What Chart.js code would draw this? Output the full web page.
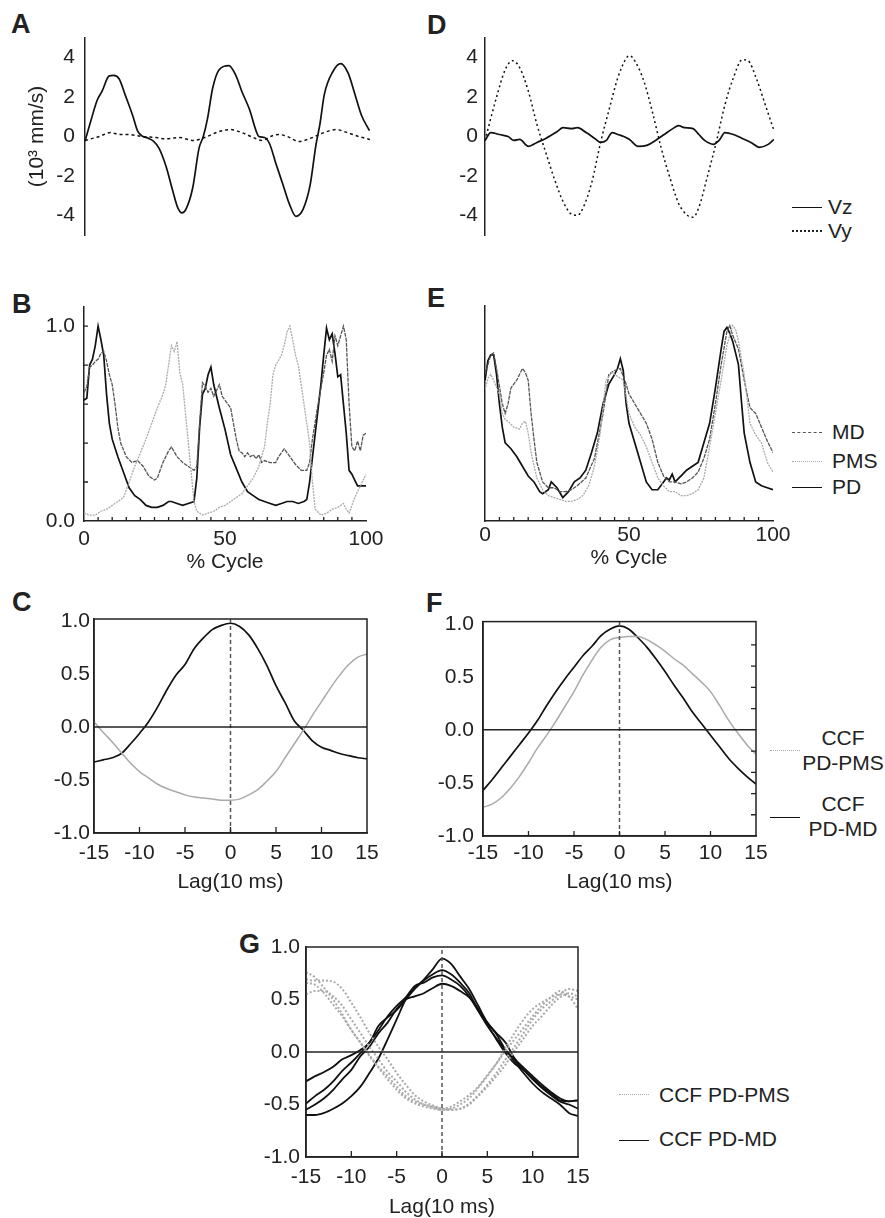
<!DOCTYPE html>
<html><head><meta charset="utf-8">
<script src="https://cdn.jsdelivr.net/npm/chart.js@4/dist/chart.umd.min.js"></script>
<style>
body{margin:0;background:#fff;font-family:"Liberation Sans",Arial,Helvetica,sans-serif;color:#222}
#fig{position:relative;width:885px;height:1218px;overflow:hidden}
#fig canvas{position:absolute}
.pl{position:absolute;font-weight:bold;font-size:27px;line-height:27px}
.lt{position:absolute;font-size:21px;line-height:1.2;transform:translateY(-50%);white-space:nowrap}
.lt.c{transform:translate(-50%,-50%);text-align:center}
.ln{position:absolute;width:30px;height:0}
</style>
</head><body>
<div id="fig">
  <div class="pl" style="left:11px;top:11px">A</div>
  <div class="pl" style="left:12px;top:291px">B</div>
  <div class="pl" style="left:12px;top:589px">C</div>
  <div class="pl" style="left:427px;top:12px">D</div>
  <div class="pl" style="left:427px;top:285px">E</div>
  <div class="pl" style="left:426px;top:590px">F</div>
  <div class="pl" style="left:239px;top:931px">G</div>

  <!-- legend D -->
  <div class="ln" style="left:792px;top:207px;border-top:1.6px solid #111"></div>
  <div class="lt" style="left:828px;top:207px">Vz</div>
  <div class="ln" style="left:792px;top:230px;border-top:2px dotted #222"></div>
  <div class="lt" style="left:828px;top:231px">Vy</div>

  <!-- legend E -->
  <div class="ln" style="left:792px;top:432px;border-top:1.5px dashed #555"></div>
  <div class="lt" style="left:832px;top:432px">MD</div>
  <div class="ln" style="left:792px;top:461px;border-top:1.5px dotted #aaa"></div>
  <div class="lt" style="left:832px;top:461px">PMS</div>
  <div class="ln" style="left:792px;top:487px;border-top:1.6px solid #111"></div>
  <div class="lt" style="left:832px;top:487px">PD</div>

  <!-- legend F -->
  <div class="ln" style="left:770px;top:750px;border-top:1.5px dotted #aaa"></div>
  <div class="lt c" style="left:843px;top:750px">CCF<br>PD-PMS</div>
  <div class="ln" style="left:770px;top:817px;border-top:1.6px solid #111"></div>
  <div class="lt c" style="left:843px;top:816px">CCF<br>PD-MD</div>

  <!-- legend G -->
  <div class="ln" style="left:619px;top:1094px;border-top:1.5px dotted #aaa"></div>
  <div class="lt" style="left:659px;top:1095px">CCF PD-PMS</div>
  <div class="ln" style="left:619px;top:1140px;border-top:1.6px solid #111"></div>
  <div class="lt" style="left:659px;top:1139px">CCF PD-MD</div>
</div>
<script>
/* ---------- ticks ---------- */
const VEL_TICKS   = [-4, -2, 0, 2, 4];
const NORM_TICKS  = [0, 1];
const NORM_MINOR  = [0.2, 0.4, 0.6, 0.8, 1.0];
const CYCLE_TICKS = [0, 50, 100];
const CYCLE_MINOR = [5,10,15,20,25,30,35,40,45,50,55,60,65,70,75,80,85,90,95];
const LAG_TICKS   = [-15, -10, -5, 0, 5, 10, 15];
const LAG_MINOR   = [-10, -5, 0, 5, 10];
const CORR_TICKS  = [-1, -0.5, 0, 0.5, 1];
const CORR_MINOR  = [-0.8, -0.6, -0.4, -0.2, 0.2, 0.4, 0.6, 0.8];
const LAGS = [-15,-14,-13,-12,-11,-10,-9,-8,-7,-6,-5,-4,-3,-2,-1,0,1,2,3,4,5,6,7,8,9,10,11,12,13,14,15];

/* ---------- A : velocity (10^3 mm/s) vs % cycle ---------- */
const A_VZ = [[0,-0.23],[2,0.77],[4.3,1.85],[6,2.3],[8.5,3.08],[10,3.1],[12,2.92],[14,2.15],[16.7,1.08],[18.4,0.3],[20,0.03],[22,-0.08],[24,-0.23],[26,-0.6],[28.4,-1.5],[30.8,-2.77],[32.5,-3.6],[34,-3.88],[35.4,-3.7],[37.8,-2.6],[40,-0.6],[41.5,0],[43,0.92],[44.8,2.46],[47,3.38],[50.5,3.6],[53,3.08],[55,2.3],[57.7,1.38],[60,0.3],[61,0],[63,-0.05],[64.8,-0.38],[67,-1.38],[69.5,-2.46],[71.8,-3.46],[74,-4.05],[76.5,-3.7],[79,-2.46],[81,-0.46],[82.4,0.6],[84,2.15],[87,3.3],[89.7,3.7],[92.3,3.23],[94.7,2.15],[97,1.08],[99.8,0.3]];
const A_VY = [[0,-0.2],[5,0.0],[9,0.2],[12,0.1],[15,0.1],[20,0.0],[25,-0.05],[28,-0.12],[33,-0.05],[38,-0.2],[42,-0.05],[47,0.25],[51,0.35],[55,0.2],[59,-0.05],[62,-0.2],[66,0.05],[68,0.1],[71,0.0],[75,-0.25],[79,-0.1],[83,0.15],[88,0.35],[92,0.2],[96,0.0],[100,-0.15]];

/* ---------- D ---------- */
const D_VY = [[0,-0.2],[4,2.0],[7,3.4],[9.5,3.85],[12,3.5],[15,2.3],[18,0.6],[21,-0.8],[24,-2.15],[27,-3.3],[30,-3.95],[32,-4.0],[34,-3.6],[37,-2.3],[40,-0.3],[43,1.4],[46,3.0],[49,4.0],[50,4.1],[52,3.8],[55,2.8],[58,1.2],[61,-0.6],[64,-2.1],[67,-3.4],[70,-4.0],[72,-4.1],[74,-3.6],[77,-2.0],[80,-0.3],[83,1.6],[86,3.0],[89,3.9],[91,3.85],[94,2.9],[97,1.6],[100,0.3]];
const D_VZ = [[0,-0.2],[2,0.2],[5,0.1],[8,0.0],[10,-0.2],[12,-0.15],[15,-0.5],[18,-0.3],[21,-0.1],[25,0.25],[27,0.45],[30,0.4],[32,0.45],[35,0.2],[38,-0.1],[40,-0.3],[42,-0.2],[44,0.2],[46,0.1],[48,0.0],[50,-0.15],[53,-0.5],[56,-0.45],[59,-0.2],[62,0.1],[65,0.4],[67,0.55],[69,0.45],[72,0.4],[74,0.1],[76,-0.2],[79,-0.4],[81,-0.2],[83,0.2],[86,0.1],[89,-0.1],[92,-0.3],[95,-0.55],[98,-0.4],[100,-0.15]];

/* ---------- B : normalized EMG ---------- */
const B_PD = [[0,0.62],[1,0.63],[2,0.8],[3,0.83],[4,0.9],[5,1.0],[6,0.93],[7,0.85],[8,0.65],[9,0.5],[10,0.42],[12,0.33],[14,0.25],[16,0.17],[18,0.13],[20,0.11],[22,0.08],[24,0.07],[26,0.07],[28,0.08],[30,0.1],[31,0.1],[33,0.09],[35,0.08],[37,0.09],[39,0.1],[40,0.22],[41,0.48],[42,0.65],[43,0.68],[44,0.75],[45,0.79],[46,0.7],[47,0.64],[48,0.58],[50,0.47],[52,0.34],[54,0.27],[56,0.2],[58,0.15],[60,0.13],[62,0.11],[64,0.1],[66,0.09],[68,0.08],[70,0.09],[72,0.1],[74,0.1],[76,0.09],[78,0.1],[79,0.11],[80,0.2],[82,0.45],[84,0.7],[85,0.85],[86,0.99],[87,0.93],[88,0.96],[89,0.86],[90,0.74],[91,0.75],[92,0.6],[93,0.45],[94,0.26],[95,0.24],[96,0.21],[97,0.18],[98,0.18],[100,0.18]];
const B_MD = [[0,0.66],[1,0.69],[2,0.79],[3,0.8],[4,0.82],[5,0.83],[6,0.86],[7,0.87],[8,0.82],[9,0.75],[10,0.7],[11,0.6],[12,0.48],[13,0.4],[15,0.33],[17,0.3],[19,0.31],[21,0.28],[23,0.23],[25,0.21],[26,0.22],[28,0.3],[30,0.36],[31,0.38],[33,0.33],[35,0.3],[37,0.28],[39,0.26],[40,0.28],[41,0.5],[42,0.71],[43,0.69],[44,0.66],[45,0.68],[46,0.64],[47,0.67],[48,0.7],[49,0.64],[50,0.62],[52,0.58],[53,0.5],[54,0.42],[55,0.36],[56,0.35],[57,0.33],[58,0.35],[59,0.33],[60,0.34],[61,0.32],[62,0.34],[63,0.3],[64,0.31],[66,0.3],[68,0.3],[69,0.33],[71,0.37],[73,0.33],[75,0.29],[77,0.26],[79,0.26],[80,0.3],[81,0.42],[83,0.6],[85,0.76],[86,0.85],[87,0.88],[88,0.82],[89,0.95],[90,0.9],[91,0.95],[92,1.0],[93,0.93],[94,0.6],[95,0.38],[96,0.36],[97,0.41],[98,0.36],[99,0.44],[100,0.45]];
const B_PMS = [[0,0.04],[2,0.03],[4,0.03],[6,0.05],[8,0.06],[10,0.08],[12,0.1],[14,0.12],[16,0.2],[18,0.28],[20,0.35],[22,0.42],[24,0.5],[26,0.58],[28,0.65],[29,0.7],[30,0.8],[31,0.9],[32,0.87],[33,0.92],[34,0.76],[35,0.7],[36,0.55],[37,0.4],[38,0.25],[39,0.1],[40,0.05],[42,0.03],[44,0.04],[46,0.05],[48,0.07],[50,0.08],[52,0.1],[54,0.12],[56,0.14],[58,0.18],[60,0.22],[62,0.28],[64,0.38],[65,0.5],[66,0.6],[67,0.75],[68,0.8],[70,0.85],[71,0.9],[72,0.97],[73,1.0],[74,0.93],[75,0.85],[76,0.8],[78,0.6],[80,0.4],[81,0.2],[82,0.06],[84,0.03],[86,0.04],[88,0.06],[90,0.07],[92,0.09],[93,0.06],[94,0.04],[96,0.12],[98,0.18],[100,0.24]];

/* ---------- E ---------- */
const E_PD = [[0,0.72],[1,0.82],[2,0.85],[3,0.85],[4,0.75],[5,0.6],[6,0.48],[7,0.4],[9,0.37],[11,0.33],[13,0.28],[15,0.23],[17,0.2],[19,0.15],[20,0.14],[22,0.16],[23,0.2],[25,0.17],[27,0.12],[29,0.15],[31,0.2],[33,0.22],[35,0.26],[37,0.35],[39,0.45],[41,0.6],[43,0.7],[45,0.75],[46,0.78],[47,0.83],[48,0.77],[49,0.6],[50,0.5],[52,0.4],[54,0.3],[56,0.2],[58,0.16],[60,0.16],[62,0.2],[63,0.22],[64,0.21],[65,0.24],[66,0.2],[68,0.23],[70,0.26],[72,0.28],[74,0.3],[76,0.4],[78,0.5],[80,0.68],[82,0.88],[83,0.97],[84,0.99],[85,0.96],[86,0.92],[87,0.86],[88,0.8],[89,0.62],[90,0.45],[92,0.3],[94,0.2],[96,0.18],[98,0.17],[100,0.16]];
const E_MD = [[0,0.75],[2,0.85],[3,0.86],[4,0.78],[6,0.6],[7,0.55],[8,0.6],[9,0.68],[11,0.72],[13,0.78],[14,0.76],[15,0.72],[16,0.55],[17,0.42],[18,0.3],[20,0.2],[22,0.17],[24,0.17],[26,0.15],[28,0.15],[30,0.16],[32,0.18],[35,0.22],[38,0.32],[41,0.55],[43,0.75],[45,0.77],[47,0.78],[49,0.7],[50,0.65],[52,0.6],[54,0.55],[56,0.5],[58,0.42],[60,0.3],[62,0.23],[64,0.2],[66,0.2],[68,0.19],[70,0.2],[72,0.22],[74,0.25],[76,0.32],[78,0.42],[80,0.6],[82,0.8],[84,0.97],[85,1.0],[86,0.95],[88,0.88],[90,0.72],[92,0.58],[94,0.55],[96,0.48],[98,0.41],[100,0.35]];
const E_PMS = [[0,0.67],[1,0.73],[2,0.75],[3,0.72],[5,0.65],[6,0.55],[7,0.52],[8,0.51],[10,0.48],[12,0.47],[13,0.5],[14,0.51],[15,0.45],[16,0.35],[18,0.22],[20,0.16],[22,0.13],[24,0.12],[26,0.11],[28,0.1],[30,0.1],[32,0.11],[34,0.13],[36,0.18],[38,0.28],[40,0.45],[42,0.72],[44,0.76],[46,0.74],[48,0.72],[50,0.55],[52,0.48],[54,0.44],[56,0.38],[58,0.3],[60,0.22],[62,0.18],[64,0.15],[66,0.15],[68,0.13],[70,0.13],[72,0.14],[74,0.16],[76,0.22],[78,0.38],[80,0.55],[82,0.72],[84,0.9],[86,1.0],[87,0.98],[88,0.92],[90,0.75],[92,0.5],[94,0.44],[96,0.4],[98,0.3],[100,0.25]];

/* ---------- C / F : cross-correlation by lag ---------- */
const C_PDMD  = [-0.33,-0.31,-0.29,-0.25,-0.16,-0.06,0.05,0.19,0.35,0.49,0.59,0.74,0.84,0.92,0.96,0.98,0.95,0.87,0.74,0.58,0.39,0.23,0.06,-0.03,-0.13,-0.19,-0.22,-0.25,-0.27,-0.29,-0.3];
const C_PDPMS = [0.05,-0.05,-0.14,-0.24,-0.34,-0.42,-0.48,-0.54,-0.58,-0.61,-0.64,-0.66,-0.67,-0.68,-0.69,-0.69,-0.68,-0.64,-0.59,-0.51,-0.42,-0.29,-0.16,-0.03,0.11,0.24,0.37,0.49,0.59,0.66,0.69];
const F_PDMD  = [-0.57,-0.47,-0.36,-0.25,-0.14,-0.03,0.09,0.23,0.36,0.48,0.59,0.7,0.79,0.89,0.95,0.98,0.95,0.87,0.78,0.67,0.55,0.42,0.3,0.17,0.06,-0.05,-0.16,-0.27,-0.36,-0.44,-0.51];
const F_PDPMS = [-0.73,-0.7,-0.64,-0.55,-0.44,-0.31,-0.17,-0.05,0.08,0.22,0.36,0.52,0.66,0.78,0.85,0.87,0.88,0.88,0.85,0.8,0.74,0.67,0.61,0.53,0.45,0.36,0.23,0.09,-0.03,-0.14,-0.23];

/* ---------- G : 4 animals each ---------- */
const G_MD1 = [-0.6,-0.6,-0.58,-0.54,-0.49,-0.42,-0.33,-0.2,-0.06,0.12,0.31,0.5,0.61,0.69,0.79,0.89,0.84,0.72,0.6,0.44,0.28,0.17,0.02,-0.09,-0.2,-0.3,-0.38,-0.44,-0.5,-0.58,-0.61];
const G_MD2 = [-0.28,-0.23,-0.19,-0.14,-0.07,-0.03,0.02,0.09,0.25,0.33,0.4,0.5,0.6,0.68,0.74,0.78,0.74,0.66,0.56,0.4,0.26,0.12,-0.01,-0.11,-0.17,-0.25,-0.33,-0.39,-0.46,-0.47,-0.46];
const G_MD3 = [-0.49,-0.42,-0.36,-0.28,-0.18,-0.1,-0.01,0.09,0.21,0.34,0.44,0.52,0.63,0.66,0.71,0.73,0.69,0.63,0.53,0.39,0.25,0.13,0.02,-0.07,-0.17,-0.26,-0.34,-0.41,-0.47,-0.5,-0.54];
const G_MD4 = [-0.55,-0.5,-0.44,-0.36,-0.26,-0.17,-0.04,0.05,0.18,0.28,0.41,0.5,0.53,0.56,0.61,0.65,0.63,0.58,0.52,0.41,0.28,0.18,0.09,-0.06,-0.15,-0.23,-0.31,-0.38,-0.44,-0.47,-0.46];
const G_PMS1 = [0.76,0.71,0.61,0.5,0.36,0.21,0.09,-0.04,-0.15,-0.26,-0.36,-0.44,-0.49,-0.52,-0.54,-0.55,-0.54,-0.5,-0.44,-0.34,-0.23,-0.11,0.04,0.18,0.31,0.41,0.47,0.52,0.55,0.53,0.5];
const G_PMS2 = [0.69,0.68,0.68,0.67,0.6,0.47,0.33,0.18,0.05,-0.07,-0.2,-0.31,-0.41,-0.47,-0.51,-0.54,-0.55,-0.54,-0.49,-0.41,-0.31,-0.2,-0.07,0.05,0.18,0.31,0.41,0.48,0.55,0.6,0.58];
const G_PMS3 = [0.55,0.58,0.58,0.53,0.44,0.31,0.18,0.05,-0.07,-0.19,-0.28,-0.38,-0.45,-0.5,-0.53,-0.55,-0.55,-0.54,-0.5,-0.42,-0.33,-0.23,-0.12,0.01,0.13,0.25,0.34,0.44,0.52,0.56,0.53];
const G_PMS4 = [0.66,0.64,0.56,0.45,0.34,0.21,0.09,-0.03,-0.14,-0.23,-0.33,-0.42,-0.47,-0.5,-0.52,-0.54,-0.52,-0.47,-0.41,-0.33,-0.22,-0.11,0.01,0.12,0.23,0.34,0.44,0.52,0.58,0.53,0.41];

/* ---------- chart setup ---------- */
Chart.defaults.font.family = '"Liberation Sans", Arial, Helvetica, sans-serif';
Chart.defaults.font.size = 21;
Chart.defaults.color = '#222';
Chart.defaults.animation = false;
Chart.defaults.plugins.legend.display = false;
Chart.defaults.plugins.tooltip.enabled = false;

const INK = '#111', MID = '#555', LIGHT = '#aaa';
const pts = a => a.map(([x,y]) => ({x, y}));
const lagPts = ys => LAGS.map((x,i) => ({x, y:ys[i]}));
function ser(data, color, width, dash, smooth){
  return {data, borderColor:color, borderWidth:width, borderDash:dash||[], pointRadius:0, fill:false,
    tension:smooth?0.4:0, cubicInterpolationMode:smooth?'monotone':'default'};
}
// zero line + dashed lag-0 line for the correlation panels
function refLines(yMin, yMax){
  return [
    ser([{x:LAG_TICKS[0], y:0}, {x:LAG_TICKS[LAG_TICKS.length-1], y:0}], '#222', 1.5),
    ser([{x:0, y:yMin}, {x:0, y:yMax}], MID, 1.5, [4,3])
  ];
}

// short tick marks pointing into the plot
const innerTicks = {
  id:'innerTicks',
  afterDatasetsDraw(chart, args, o){
    const {ctx, chartArea:a, scales} = chart, len = o.len || 5;
    ctx.save(); ctx.strokeStyle = '#222'; ctx.lineWidth = 1.3; ctx.beginPath();
    (o.x||[]).forEach(v => { const p = scales.x.getPixelForValue(v); ctx.moveTo(p, a.bottom); ctx.lineTo(p, a.bottom-len); });
    (o.y||[]).forEach(v => { const p = scales.y.getPixelForValue(v); ctx.moveTo(a.left, p); ctx.lineTo(a.left+len, p); });
    (o.r||[]).forEach(v => { const p = scales.y.getPixelForValue(v); ctx.moveTo(a.right, p); ctx.lineTo(a.right-len, p); });
    ctx.stroke(); ctx.restore();
  }
};
const frame = {
  id:'frame',
  afterDatasetsDraw(chart, args, o){
    if(!o.on) return;
    const {ctx, chartArea:a} = chart;
    ctx.save(); ctx.strokeStyle = '#222'; ctx.lineWidth = 1.5;
    ctx.strokeRect(a.left, a.top, a.right-a.left, a.bottom-a.top); ctx.restore();
  }
};

// box = canvas rect on page, area = wanted plot rect on page
function panel(box, area, o){
  const cv = document.createElement('canvas');
  cv.width = box.w; cv.height = box.h;
  cv.style.left = box.x+'px'; cv.style.top = box.y+'px';
  document.getElementById('fig').appendChild(cv);
  const yW = area.l - box.x, xH = box.y + box.h - area.b;
  const axBorder = {display:true, color:'#222', width:1.5};
  new Chart(cv, {
    type:'line',
    data:{datasets:o.datasets},
    options:{
      responsive:false,
      layout:{padding:{left:0, top:area.t-box.y, right:box.x+box.w-area.r, bottom:o.xShow ? 0 : xH}},
      scales:{
        x:{type:'linear', display:o.xShow, min:o.xMin, max:o.xMax, offset:false,
          afterFit:s => { s.height = xH; },
          afterBuildTicks:s => { s.ticks = o.xTicks.map(v => ({value:v})); },
          grid:{display:false, drawTicks:false}, border:axBorder,
          ticks:{padding:o.xPad, maxRotation:0, autoSkip:false, callback:v => String(v)},
          title:{display:!!o.xTitle, text:o.xTitle, padding:0}},
        y:{type:'linear', min:o.yMin, max:o.yMax,
          afterFit:s => { s.width = yW; },
          afterBuildTicks:s => { s.ticks = o.yTicks.map(v => ({value:v})); },
          grid:{display:false, drawTicks:false}, border:axBorder,
          ticks:{display:o.yLabels !== false, padding:o.yPad, autoSkip:false, callback:o.yFmt || (v => String(v))},
          title:o.yTitle ? {display:true, text:o.yTitle, padding:{top:25, bottom:0}} : {display:false}}
      },
      plugins:{innerTicks:o.inner || {}, frame:{on:!!o.frame}}
    },
    plugins:[innerTicks, frame]
  });
}

const fix1 = v => v.toFixed(1);

/* A */
panel({x:0, y:15, w:395, h:260}, {l:85, t:38, r:370, b:255}, {
  datasets:[ser(pts(A_VY), INK, 1.5, [3,3], true), ser(pts(A_VZ), INK, 1.7, null, true)],
  xShow:false, xMin:0, xMax:100, xTicks:CYCLE_TICKS,
  yMin:-5, yMax:5, yTicks:VEL_TICKS, yPad:10, yTitle:'(10³ mm/s)'
});
/* D */
panel({x:400, y:15, w:395, h:260}, {l:485, t:38, r:774, b:255}, {
  datasets:[ser(pts(D_VY), INK, 1.5, [2,3], true), ser(pts(D_VZ), INK, 1.7, null, true)],
  xShow:false, xMin:0, xMax:100, xTicks:CYCLE_TICKS,
  yMin:-5, yMax:5, yTicks:VEL_TICKS, yPad:7
});
/* B */
panel({x:0, y:285, w:395, h:290}, {l:84, t:306, r:366, b:521}, {
  datasets:[ser(pts(B_PMS), LIGHT, 1.3, [2,1]), ser(pts(B_MD), MID, 1.3, [4,1]), ser(pts(B_PD), INK, 1.7)],
  xShow:true, xMin:0, xMax:100, xTicks:CYCLE_TICKS, xPad:6, xTitle:'% Cycle',
  yMin:0, yMax:1.1, yTicks:NORM_TICKS, yPad:9, yFmt:fix1,
  inner:{x:CYCLE_MINOR, y:NORM_MINOR, len:4}
});
/* E */
panel({x:400, y:285, w:395, h:286}, {l:485, t:306, r:773, b:521}, {
  datasets:[ser(pts(E_PMS), LIGHT, 1.3, [2,1]), ser(pts(E_MD), MID, 1.3, [4,1]), ser(pts(E_PD), INK, 1.7)],
  xShow:true, xMin:0, xMax:100, xTicks:CYCLE_TICKS, xPad:2, xTitle:'% Cycle',
  yMin:0, yMax:1.1, yTicks:NORM_TICKS, yLabels:false,
  inner:{x:CYCLE_MINOR, len:4}
});
/* C */
panel({x:0, y:600, w:395, h:295}, {l:94, t:619, r:367, b:833}, {
  datasets:[...refLines(-1, 1.02), ser(lagPts(C_PDPMS), LIGHT, 1.5, null, true), ser(lagPts(C_PDMD), INK, 1.7, null, true)],
  xShow:true, xMin:-15, xMax:15, xTicks:LAG_TICKS, xPad:8, xTitle:'Lag(10 ms)',
  yMin:-1, yMax:1.02, yTicks:CORR_TICKS, yPad:4, yFmt:fix1,
  inner:{x:LAG_MINOR, len:6}, frame:true
});
/* F */
panel({x:400, y:600, w:385, h:295}, {l:483, t:620, r:756, b:836}, {
  datasets:[...refLines(-1, 1.02), ser(lagPts(F_PDPMS), LIGHT, 1.5, null, true), ser(lagPts(F_PDMD), INK, 1.7, null, true)],
  xShow:true, xMin:-15, xMax:15, xTicks:LAG_TICKS, xPad:5, xTitle:'Lag(10 ms)',
  yMin:-1, yMax:1.02, yTicks:CORR_TICKS, yPad:9, yFmt:fix1,
  inner:{x:LAG_MINOR, r:CORR_MINOR, len:5}, frame:true
});
/* G */
panel({x:200, y:925, w:405, h:295}, {l:306, t:947, r:578, b:1157}, {
  datasets:[...refLines(-1, 1),
    ser(lagPts(G_PMS1), LIGHT, 2, [2,2], true), ser(lagPts(G_PMS2), LIGHT, 2, [2,2], true),
    ser(lagPts(G_PMS3), LIGHT, 2, [2,2], true), ser(lagPts(G_PMS4), LIGHT, 2, [2,2], true),
    ser(lagPts(G_MD1), INK, 1.8, null, true), ser(lagPts(G_MD2), INK, 1.8, null, true),
    ser(lagPts(G_MD3), INK, 1.8, null, true), ser(lagPts(G_MD4), INK, 1.8, null, true)],
  xShow:true, xMin:-15, xMax:15, xTicks:LAG_TICKS, xPad:8, xTitle:'Lag(10 ms)',
  yMin:-1, yMax:1, yTicks:CORR_TICKS, yPad:6, yFmt:fix1,
  inner:{x:LAG_MINOR, len:6}, frame:true
});
</script>
</body></html>
